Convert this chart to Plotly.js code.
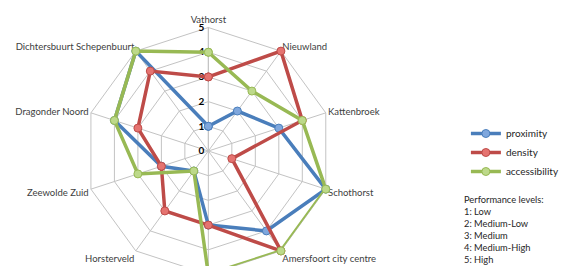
<!DOCTYPE html>
<html>
<head>
<meta charset="utf-8">
<script src="https://cdn.plot.ly/plotly-3.0.1.min.js"></script>
<style>
  html, body { margin: 0; padding: 0; width: 565px; height: 266px; overflow: hidden; background: #fff; }
  #chart { width: 565px; height: 300px; }
</style>
</head>
<body>
<div id="chart"></div>
<script>
// Categories clockwise from the top; the 6th (bottom) axis label is cut off in the reference.
const categories = ["Vathorst", "Nieuwland", "Kattenbroek", "Schothorst", "Amersfoort city centre",
                    "bottom axis", "Horsterveld", "Zeewolde Zuid", "Dragonder Noord", "Dichtersbuurt Schepenbuurt"];
const categoryLabels = ["Vathorst", "Nieuwland", "Kattenbroek", "Schothorst", "Amersfoort city centre",
                    "", "Horsterveld", "Zeewolde Zuid", "Dragonder Noord", "Dichtersbuurt Schepenbuurt"];
const proximity     = [1, 2, 3, 5, 4, 3, 1, 2, 4, 5];
const density       = [3, 5, 4, 1, 5, 3, 3, 2, 3, 4];
const accessibility = [4, 3, 4, 5, 5, 5, 1, 3, 4, 5];
const radialTicks = [0, 1, 2, 3, 4, 5];
const performanceText = ["Performance levels:", "1: Low", "2: Medium-Low", "3: Medium", "4: Medium-High", "5: High"];

const W = 565, H = 300;
function close(a) { return a.concat([a[0]]); }
function series(name, vals, lineColor, markerColor) {
  return {
    type: 'scatterpolar', mode: 'lines+markers', name: name,
    r: close(vals), theta: close(categories),
    line: { color: lineColor, width: 3.5 },
    marker: { size: 8, color: markerColor, line: { color: lineColor, width: 1 } },
    cliponaxis: false
  };
}
const data = [
  series('proximity', proximity, '#4a7ebb', '#7fa7dd'),
  series('density', density, '#be4b48', '#e57370'),
  series('accessibility', accessibility, '#98b954', '#bdd98a')
];
const grid = '#c3c3c3';
const layout = {
  width: W, height: H,
  margin: { l: 0, r: 0, t: 0, b: 0 },
  paper_bgcolor: '#fff',
  font: { family: 'Lato, "Liberation Sans", sans-serif', size: 10, color: '#262626' },
  showlegend: true,
  legend: {
    x: 483 / W, xanchor: 'left', y: 1 - 119 / H, yanchor: 'top',
    font: { size: 10, color: '#262626' }, itemwidth: 30, tracegroupgap: 0,
    bgcolor: 'rgba(0,0,0,0)'
  },
  polar: {
    domain: { x: [88 / W, 344 / W], y: [1 - 279 / H, 1 - 23 / H] },
    bgcolor: '#fff',
    gridshape: 'linear',
    radialaxis: {
      range: [0, 5], tickvals: radialTicks, angle: 90, side: 'counterclockwise', tickangle: 90,
      showline: true, linecolor: grid, linewidth: 1, gridcolor: grid, gridwidth: 1,
      ticks: '', tickfont: { size: 10, color: '#000', weight: 'bold' }, layer: 'below traces'
    },
    angularaxis: {
      type: 'category', categoryarray: categories, rotation: 90, direction: 'clockwise',
      tickmode: 'array', tickvals: categories, ticktext: categoryLabels,
      showline: true, linecolor: grid, linewidth: 1, gridcolor: grid, gridwidth: 1,
      ticks: '', tickfont: { size: 9.5, color: '#404040' }, layer: 'below traces'
    }
  },
  annotations: [{
    xref: 'paper', yref: 'paper', x: 479 / W, y: 1 - 192 / H, xanchor: 'left', yanchor: 'top',
    align: 'left', showarrow: false, text: performanceText.join('<br>'),
    font: { size: 9.3, color: '#262626' }
  }]
};
Plotly.newPlot('chart', data, layout, { displayModeBar: false, staticPlot: true });
</script>
</body>
</html>
